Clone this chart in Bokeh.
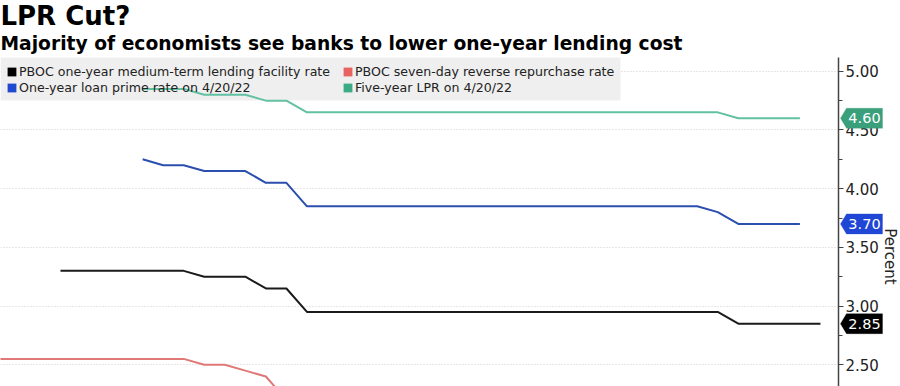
import numpy as np
from math import pi
from bokeh.plotting import figure
from bokeh.models import (Range1d, Legend, LegendItem, Label, PolyAnnotation, BoxAnnotation,
                          FixedTicker, PrintfTickFormatter)
from bokeh.embed import file_html
from bokeh.resources import INLINE

# ---------------- data (monthly, Jan 2019 .. May 2022) ----------------
months = ["Jan 2019", "Feb 2019", "Mar 2019", "Apr 2019", "May 2019", "Jun 2019",
          "Jul 2019", "Aug 2019", "Sep 2019", "Oct 2019", "Nov 2019", "Dec 2019",
          "Jan 2020", "Feb 2020", "Mar 2020", "Apr 2020", "May 2020", "Jun 2020",
          "Jul 2020", "Aug 2020", "Sep 2020", "Oct 2020", "Nov 2020", "Dec 2020",
          "Jan 2021", "Feb 2021", "Mar 2021", "Apr 2021", "May 2021", "Jun 2021",
          "Jul 2021", "Aug 2021", "Sep 2021", "Oct 2021", "Nov 2021", "Dec 2021",
          "Jan 2022", "Feb 2022", "Mar 2022", "Apr 2022", "May 2022"]

mlf_rate = [None, None, None, 3.30, 3.30, 3.30, 3.30, 3.30, 3.30, 3.30,
            3.25, 3.25, 3.25, 3.15, 3.15, 2.95, 2.95, 2.95, 2.95, 2.95,
            2.95, 2.95, 2.95, 2.95, 2.95, 2.95, 2.95, 2.95, 2.95, 2.95,
            2.95, 2.95, 2.95, 2.95, 2.95, 2.95, 2.85, 2.85, 2.85, 2.85, 2.85]

reverse_repo = [2.55, 2.55, 2.55, 2.55, 2.55, 2.55, 2.55, 2.55, 2.55, 2.55,
                2.50, 2.50, 2.45, 2.40, 2.20, 2.20, 2.20, 2.20, 2.20, 2.20,
                2.20, 2.20, 2.20, 2.20, 2.20, 2.20, 2.20, 2.20, 2.20, 2.20,
                2.20, 2.20, 2.20, 2.20, 2.20, 2.20, 2.10, 2.10, 2.10, 2.10, 2.10]

lpr_1y = [None, None, None, None, None, None, None, 4.25, 4.20, 4.20,
          4.15, 4.15, 4.15, 4.05, 4.05, 3.85, 3.85, 3.85, 3.85, 3.85,
          3.85, 3.85, 3.85, 3.85, 3.85, 3.85, 3.85, 3.85, 3.85, 3.85,
          3.85, 3.85, 3.85, 3.85, 3.85, 3.80, 3.70, 3.70, 3.70, 3.70, None]

lpr_5y = [None, None, None, None, None, None, None, 4.85, 4.85, 4.85,
          4.80, 4.80, 4.80, 4.75, 4.75, 4.65, 4.65, 4.65, 4.65, 4.65,
          4.65, 4.65, 4.65, 4.65, 4.65, 4.65, 4.65, 4.65, 4.65, 4.65,
          4.65, 4.65, 4.65, 4.65, 4.65, 4.65, 4.60, 4.60, 4.60, 4.60, None]

labels = ["PBOC one-year medium-term lending facility rate",
          "PBOC seven-day reverse repurchase rate",
          "One-year loan prime rate on 4/20/22",
          "Five-year LPR on 4/20/22"]

y_ticks = [2.50, 3.00, 3.50, 4.00, 4.50, 5.00]
y_minor_ticks = [2.75, 3.25, 3.75, 4.25, 4.75]

title_text = "LPR Cut?"
subtitle_text = "Majority of economists see banks to lower one-year lending cost"
y_label = "Percent"

# ---------------- layout constants (pixels of the 900x386 page) ----------------
W, H = 900, 386
PLOT_TOP = 57          # top of the charting area (axis line starts here)
AXIS_PX = 838          # x pixel of the value axis
PX_PER_MONTH = 20.54
PX_PER_UNIT = 117.4
Y_BOTTOM = 2.315       # value at the bottom edge of the page
X_LEFT = 0.08          # month index at the left edge of the page
X_RIGHT = X_LEFT + W / PX_PER_MONTH
Y_TOP = Y_BOTTOM + H / PX_PER_UNIT
X_AXIS = X_LEFT + AXIS_PX / PX_PER_MONTH


def ypx(py):
    """pixel row (from page top) -> value"""
    return Y_TOP - py / PX_PER_UNIT


x = np.arange(len(months))
FONT = "DejaVu Sans"

p = figure(width=W, height=H, output_backend="svg", toolbar_location=None,
           x_range=Range1d(X_LEFT, X_RIGHT), y_range=Range1d(Y_BOTTOM, Y_TOP),
           x_axis_location=None, y_axis_location="right",
           min_border_left=0, min_border_top=0, min_border_bottom=0, min_border_right=0)
p.outline_line_color = None
p.background_fill_color = "white"
p.border_fill_color = "white"
p.xgrid.visible = False

ax = p.yaxis[0]
ax.fixed_location = X_AXIS
ax.bounds = (Y_BOTTOM, ypx(PLOT_TOP))
ax.ticker = FixedTicker(ticks=y_ticks, minor_ticks=y_minor_ticks)
ax.formatter = PrintfTickFormatter(format="%.2f")
ax.axis_line_color = "#444444"
ax.axis_line_width = 1.5
ax.major_tick_line_color = "#444444"
ax.major_tick_in = 0
ax.major_tick_out = 5
ax.minor_tick_line_color = "#444444"
ax.minor_tick_in = 0
ax.minor_tick_out = 4
ax.major_label_standoff = 2
ax.major_label_text_font = FONT
ax.major_label_text_font_size = "15px"
ax.major_label_text_color = "#222222"

p.ygrid.grid_line_color = "#cfcfcf"
p.ygrid.grid_line_dash = "1 2"
p.ygrid.grid_line_width = 1

# grid stops at the axis; legend background box
p.add_layout(BoxAnnotation(left=X_AXIS, fill_color="white", fill_alpha=1.0,
                           line_color=None, level="underlay"))
p.add_layout(BoxAnnotation(right=620, right_units="screen",
                           top=ypx(PLOT_TOP), bottom=ypx(100),
                           fill_color="#efefef", fill_alpha=1.0, line_color=None,
                           level="underlay"))

line_colors = ["#1a1a1a", "#e07878", "#2b4fae", "#62c1a3"]
key_colors = ["#000000", "#e86262", "#2049d0", "#3bab84"]
tag_colors = ["#000000", "#e86262", "#1f46d4", "#3aa07c"]
series = [mlf_rate, reverse_repo, lpr_1y, lpr_5y]

for vals, c in zip(series, line_colors):
    p.line(x, np.array(vals, dtype=float), line_color=c, line_width=2)

# legend keys: zero-area squares at each series' first point (only their legend glyph shows)
keys = []
for vals, c in zip(series, key_colors):
    i0 = next(i for i, v in enumerate(vals) if v is not None)
    keys.append(p.quad(left=[x[i0]], right=[x[i0]], top=[vals[i0]], bottom=[vals[i0]],
                       fill_color=c, line_color=None))
items = [LegendItem(label=lab, renderers=[k]) for lab, k in zip(labels, keys)]
LEG_H = 32
legend = Legend(items=items, location=(6, H - 63 - LEG_H), orientation="horizontal", ncols=2,
                margin=0, padding=0, spacing=0, glyph_width=11, glyph_height=11,
                label_standoff=2, label_height=16, label_width=323,
                label_text_font=FONT, label_text_font_size="12.6px",
                label_text_color="#222222", background_fill_alpha=0.0,
                border_line_color=None, level="underlay")
p.add_layout(legend, "center")

# value tags at the axis (last values)
half = 10 / PX_PER_UNIT
for idx in (3, 2, 0):
    vals = [v for v in series[idx] if v is not None]
    v = vals[-1]
    c = tag_colors[idx]
    p.add_layout(PolyAnnotation(xs=[840, 846, 882, 882, 846],
                                ys=[v, v + half, v + half, v - half, v - half],
                                xs_units="screen", ys_units="data",
                                fill_color=c, fill_alpha=1, line_color=c, line_width=1))
    p.add_layout(Label(x=864, y=v, x_units="screen", y_units="data", text=f"{v:.2f}",
                       text_color="white", text_font=FONT, text_font_size="14.5px",
                       text_align="center", text_baseline="middle"))

# titles and axis name
p.add_layout(Label(x=0, y=ypx(15), x_units="screen", y_units="data", text=title_text,
                   text_font=FONT, text_font_style="bold", text_font_size="26px",
                   text_color="#000000", text_baseline="alphabetic"))
p.add_layout(Label(x=0, y=ypx(43), x_units="screen", y_units="data", text=subtitle_text,
                   text_font=FONT, text_font_style="bold", text_font_size="18.7px",
                   text_color="#000000", text_baseline="alphabetic"))
p.add_layout(Label(x=889, y=ypx(256), x_units="screen", y_units="data", text=y_label,
                   angle=-pi / 2, text_font=FONT, text_font_size="15px",
                   text_color="#222222", text_align="center", text_baseline="middle"))

open("out.html", "w").write(file_html(p, INLINE))
